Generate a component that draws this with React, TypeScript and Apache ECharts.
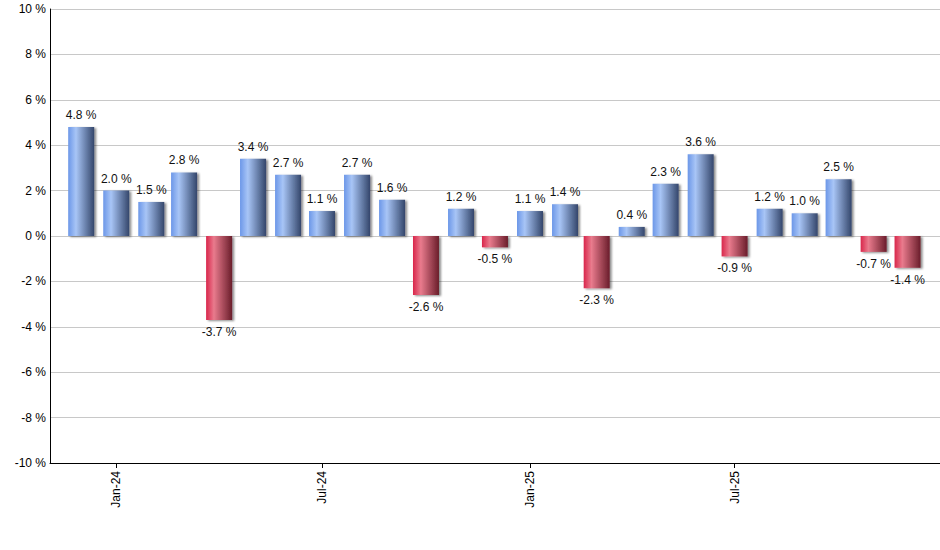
import { useEffect, useRef } from "react";
import * as echarts from "echarts";

// monthly returns, one bar per month
const months = [
  "2023-12", "2024-01", "2024-02", "2024-03", "2024-04", "2024-05", "2024-06",
  "2024-07", "2024-08", "2024-09", "2024-10", "2024-11", "2024-12",
  "2025-01", "2025-02", "2025-03", "2025-04", "2025-05", "2025-06",
  "2025-07", "2025-08", "2025-09", "2025-10", "2025-11", "2025-12",
];
const returns = [
  4.8, 2.0, 1.5, 2.8, -3.7, 3.4, 2.7, 1.1, 2.7, 1.6, -2.6, 1.2, -0.5,
  1.1, 1.4, -2.3, 0.4, 2.3, 3.6, -0.9, 1.2, 1.0, 2.5, -0.7, -1.4,
];
const tickMonths = ["2024-01", "2024-07", "2025-01", "2025-07"];
const monthNames = ["Jan", "Feb", "Mar", "Apr", "May", "Jun", "Jul", "Aug", "Sep", "Oct", "Nov", "Dec"];

const FONT = "Arial, 'Liberation Sans', sans-serif";
const DAY = 86400000;

// days since 2000-01-01 (UTC), so spacing follows month lengths
function toDay(m: string) {
  const [y, mo] = m.split("-").map(Number);
  return Math.round((Date.UTC(y, mo - 1, 1) - Date.UTC(2000, 0, 1)) / DAY);
}
function dayLabel(d: number) {
  const date = new Date(Date.UTC(2000, 0, 1) + d * DAY);
  return `${monthNames[date.getUTCMonth()]}-${String(date.getUTCFullYear()).slice(2)}`;
}

const blueFill = new echarts.graphic.LinearGradient(0, 0, 1, 0, [
  { offset: 0, color: "#6c97e8" },
  { offset: 0.3, color: "#a8c5f6" },
  { offset: 1, color: "#34466b" },
]);
const redFill = new echarts.graphic.LinearGradient(0, 0, 1, 0, [
  { offset: 0, color: "#d9264b" },
  { offset: 0.3, color: "#e97b8d" },
  { offset: 1, color: "#6a1d2b" },
]);

export default function App() {
  const chartRef = useRef<HTMLDivElement>(null);

  useEffect(() => {
    if (!chartRef.current) return;
    document.body.style.margin = "0";
    const chart = echarts.init(chartRef.current, null, { renderer: "svg" });

    const seriesData = months.map((m, i) => {
      const v = returns[i];
      return {
        value: [toDay(m), v],
        itemStyle: { color: v >= 0 ? blueFill : redFill },
        label: { position: v >= 0 ? "top" : "bottom" },
      };
    });

    const ticks = tickMonths.map(toDay);
    const first = toDay(months[0]);

    const option: echarts.EChartsOption = {
      animation: false,
      grid: { left: 50, right: 0, top: 9, bottom: 87 },
      xAxis: {
        type: "value",
        min: first - 27.6,
        max: first + 759.7,
        axisLine: { show: true, onZero: false, lineStyle: { color: "#000", width: 1 } },
        axisTick: { show: true, customValues: ticks, length: 5, lineStyle: { color: "#000" } },
        axisLabel: {
          customValues: ticks,
          rotate: 90,
          color: "#000",
          fontSize: 12,
          fontFamily: FONT,
          margin: 8,
          formatter: (val: number) => dayLabel(val),
        },
        splitLine: { show: false },
      },
      yAxis: {
        type: "value",
        min: -10,
        max: 10,
        interval: 2,
        axisLine: { show: true, lineStyle: { color: "#000", width: 1 } },
        axisTick: { show: false },
        axisLabel: {
          color: "#000",
          fontSize: 12,
          fontFamily: FONT,
          margin: 4,
          formatter: (v: number) => `${v} %`,
        },
        splitLine: { lineStyle: { color: "#c8c8c8", width: 1 } },
      },
      series: [
        {
          type: "bar",
          barWidth: 26,
          data: seriesData as any,
          itemStyle: {
            shadowColor: "rgba(0,0,0,0.45)",
            shadowBlur: 2,
            shadowOffsetX: 2,
            shadowOffsetY: 1,
          },
          label: {
            show: true,
            distance: 6,
            color: "#111",
            fontSize: 12,
            fontFamily: FONT,
            formatter: (p: any) => `${p.value[1].toFixed(1)} %`,
          },
        },
      ],
    };

    chart.setOption(option);
    return () => {
      chart.dispose();
    };
  }, []);

  return <div ref={chartRef} style={{ width: 940, height: 550 }} />;
}
